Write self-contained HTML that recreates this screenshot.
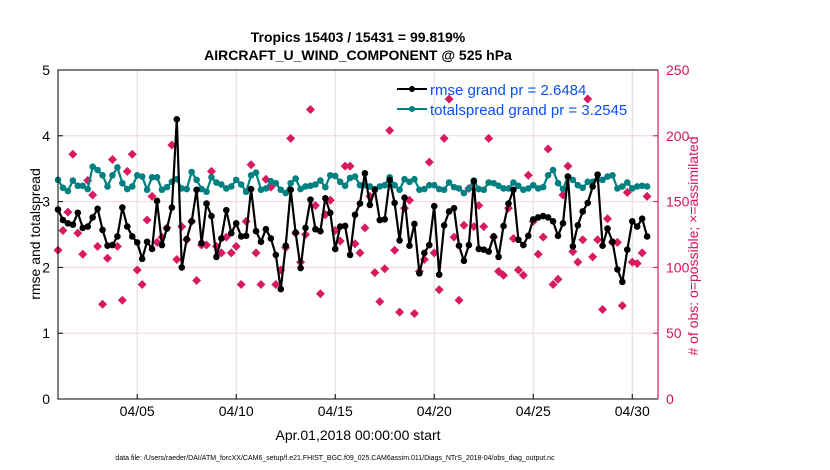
<!DOCTYPE html>
<html><head><meta charset="utf-8"><style>
body{margin:0;background:#fff;}
svg{display:block;font-family:"Liberation Sans",sans-serif;}
</style></head><body>
<svg id="chart" width="830" height="470" viewBox="0 0 830 470">
<text x="358" y="42" text-anchor="middle" font-size="14" font-weight="bold">Tropics 15403 / 15431 = 99.819%</text>
<text x="358" y="60" text-anchor="middle" font-size="14" font-weight="bold">AIRCRAFT_U_WIND_COMPONENT @ 525 hPa</text>
<g id="grid"></g>
<g id="obs"></g>
<g id="series"></g>
<g id="axes"></g>
<text transform="translate(40,234) rotate(-90)" text-anchor="middle" font-size="14">rmse and totalspread</text>
<text transform="translate(698,246) rotate(-90)" text-anchor="middle" font-size="14" fill="#d6145e"># of obs: o=possible; ×=assimilated</text>
<text x="358" y="440" text-anchor="middle" font-size="14">Apr.01,2018 00:00:00 start</text>
<text x="335" y="460" text-anchor="middle" font-size="7">data file: /Users/raeder/DAI/ATM_forcXX/CAM6_setup/f.e21.FHIST_BGC.f09_025.CAM6assim.011/Diags_NTrS_2018-04/obs_diag_output.nc</text>
<g>
<line x1="397" y1="89" x2="427" y2="89" stroke="#000" stroke-width="2"/>
<circle cx="412" cy="89" r="3" fill="#000"/>
<text x="430" y="95" font-size="15" fill="#0a50f0">rmse grand pr = 2.6484</text>
<line x1="397" y1="109" x2="427" y2="109" stroke="#008080" stroke-width="2"/>
<circle cx="412" cy="109" r="3" fill="#008080"/>
<text x="430" y="115" font-size="15" fill="#0a50f0">totalspread grand pr = 3.2545</text>
</g>
</svg>
<script>
const rmse=[2.88,2.72,2.67,2.65,2.83,2.60,2.62,2.76,2.89,2.57,2.33,2.34,2.47,2.91,2.62,2.47,2.38,2.13,2.39,2.28,3.01,2.34,2.59,2.91,4.25,2.0,2.43,2.70,3.18,2.37,2.97,
2.78,2.16,2.44,2.87,2.52,2.67,2.47,2.48,3.19,2.55,2.39,2.58,2.44,2.19,1.67,2.33,3.18,2.53,1.99,2.60,3.03,2.58,2.55,3.05,2.83,2.28,2.62,2.63,2.19,2.80,
2.97,3.43,2.95,3.18,2.72,2.73,3.33,2.98,2.41,3.06,2.33,2.66,1.91,2.22,2.34,2.93,1.89,2.64,2.85,2.90,2.33,2.10,2.34,3.31,2.28,2.27,2.24,2.47,2.16,2.63,
2.97,3.18,2.42,2.34,2.48,2.73,2.76,2.78,2.76,2.70,2.48,2.67,3.38,2.32,2.64,2.85,2.98,3.23,3.41,2.33,2.59,2.39,1.97,1.78,2.27,2.70,2.62,2.74,2.47];
const spread=[3.33,3.21,3.16,3.32,3.24,3.24,3.19,3.53,3.48,3.40,3.23,3.40,3.52,3.28,3.19,3.23,3.40,3.38,3.18,3.37,3.37,3.18,3.22,3.30,3.34,3.20,3.19,3.45,3.33,3.19,3.15,
3.37,3.29,3.26,3.20,3.23,3.33,3.26,3.15,3.40,3.44,3.18,3.20,3.31,3.28,3.18,3.13,3.28,3.35,3.19,3.23,3.24,3.26,3.32,3.22,3.40,3.39,3.30,3.24,3.36,3.38,
3.25,3.25,3.23,3.19,3.23,3.25,3.37,3.25,3.18,3.34,3.30,3.34,3.18,3.19,3.25,3.25,3.19,3.18,3.29,3.22,3.20,3.13,3.20,3.32,3.19,3.18,3.29,3.28,3.24,3.20,
3.20,3.29,3.24,3.18,3.20,3.25,3.20,3.22,3.40,3.48,3.28,3.19,3.38,3.33,3.25,3.21,3.30,3.30,3.34,3.33,3.38,3.40,3.20,3.23,3.29,3.20,3.23,3.24,3.23];
const obsCount=[113,128,142,186,126,110,166,155,116,72,107,182,116,75,173,186,98,87,136,154,119,123,130,193,106,131,121,135,90,117,117,
173,116,111,123,111,116,87,135,178,111,87,167,161,87,98,115,198,126,104,125,220,147,80,140,151,128,120,177,177,118,
111,130,154,96,74,99,204,113,66,145,151,65,97,106,180,111,83,198,228,123,75,132,160,131,147,131,198,123,97,94,
145,122,98,94,170,135,110,123,190,87,91,155,177,112,104,121,228,108,121,68,137,119,119,71,157,104,103,111,154];
const xTickDays=[4,9,14,19,24,29];
const xTickLabels=['04/05','04/10','04/15','04/20','04/25','04/30'];
const yTicks=[0,1,2,3,4,5];
const y2Ticks=[0,50,100,150,200,250];

const NS='http://www.w3.org/2000/svg';
const L=58,R=658,T=70,B=399;
const xS=d=>L+d*(R-L)/30.3;
const yS=v=>B-v*(B-T)/5;
const y2S=v=>B-v*(B-T)/250;
function mk(tag,attrs,parent){const e=document.createElementNS(NS,tag);for(const k in attrs)e.setAttribute(k,attrs[k]);parent.appendChild(e);return e;}
const grid=document.getElementById('grid'),axes=document.getElementById('axes'),ser=document.getElementById('series'),obs=document.getElementById('obs');

xTickDays.forEach((d,i)=>{
  const g=mk('line',{x1:xS(d),x2:xS(d),y1:T,y2:B,stroke:'#dcdcdc','stroke-width':1},grid);
  
  
  const t=mk('line',{x1:xS(d),x2:xS(d),y1:B,y2:B-5,stroke:'#000'},axes);
  
  
  const tx=mk('text',{x:xS(d),y:B+17,'text-anchor':'middle','font-size':14},axes);
  tx.textContent=xTickLabels[i];
  
  
});
yTicks.forEach(v=>{
  if(v>0&&v<5){const g=mk('line',{x1:L,x2:R,y1:yS(v),y2:yS(v),stroke:'#f0d4dc','stroke-width':1},grid);
  
  }
  const t=mk('line',{x1:L,x2:L+5,y1:yS(v),y2:yS(v),stroke:'#000'},axes);
  
  
  const tx=mk('text',{x:L-8,y:yS(v)+5,'text-anchor':'end','font-size':14},axes);
  tx.textContent=v;
  
  
});
y2Ticks.forEach(v=>{
  const t=mk('line',{x1:R-5,x2:R,y1:y2S(v),y2:y2S(v),stroke:'#d6145e'},axes);
  
  
  const tx=mk('text',{x:R+8,y:y2S(v)+5,'font-size':14,fill:'#d6145e'},axes);
  tx.textContent=v;
  
  
});
const box=mk('path',{d:`M${R},${T}H${L}V${B}H${R}`,fill:'none',stroke:'#000','stroke-width':1},axes);


const r2=mk('line',{x1:R,x2:R,y1:T,y2:B,stroke:'#d6145e','stroke-width':1.2},axes);



obsCount.forEach((v,i)=>{
  const x=xS(i*0.25),y=y2S(v);
  const p=mk('path',{d:`M${x},${y-4.5}L${x+4.5},${y}L${x},${y+4.5}L${x-4.5},${y}Z`,fill:'#d81b60'},obs);
  
  
});
function line(vals,color,name){
  const d=vals.map((v,i)=>(i?'L':'M')+xS(i*0.25).toFixed(1)+','+yS(v).toFixed(1)).join('');
  const p=mk('path',{d,fill:'none',stroke:color,'stroke-width':2.2,'stroke-linejoin':'round'},ser);
  
  
  vals.forEach((v,i)=>{
    const c=mk('circle',{cx:xS(i*0.25),cy:yS(v),r:3.3,fill:color},ser);
    
    
  });
}
line(spread,'#008080','totalspread');
line(rmse,'#000000','rmse');
</script>
</body></html>
